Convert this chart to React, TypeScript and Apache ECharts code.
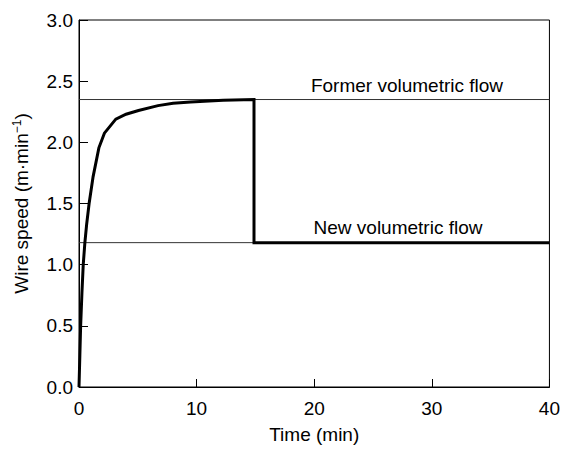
import React, { useEffect, useRef } from "react";
import * as echarts from "echarts";

const curveTime = [0, 0.07, 0.14, 0.25, 0.36, 0.5, 0.65, 0.86, 1.2, 1.69, 2.16, 3.13, 4.0, 5.06, 6.72, 8.0, 9.49, 12.26, 14.88, 14.88, 40];
const curveSpeed = [0, 0.25, 0.5, 0.77, 1.0, 1.18, 1.33, 1.5, 1.72, 1.955, 2.075, 2.19, 2.23, 2.26, 2.3, 2.32, 2.33, 2.343, 2.35, 1.18, 1.18];
const formerFlow = 2.35;
const newFlow = 1.18;
const refX = [0, 40];
const xTicks = [0, 10, 20, 30, 40];
const yTicks = [0, 0.5, 1.0, 1.5, 2.0, 2.5, 3.0];
const annotations = ["Former volumetric flow", "New volumetric flow"];

const FONT = "Liberation Sans, Arial, Helvetica, sans-serif";
const FS = 19;

export default function App() {
  const ref = useRef<HTMLDivElement>(null);
  useEffect(() => {
    if (!ref.current) return;
    const chart = echarts.init(ref.current, null, { renderer: "svg" });
    const curve = curveTime.map((t, i) => [t, curveSpeed[i]]);
    chart.setOption({
      animation: false,
      backgroundColor: "#fff",
      grid: { left: 79, top: 20, right: 2, bottom: 56, show: true, borderColor: "#000", borderWidth: 1 },
      xAxis: {
        type: "value",
        min: xTicks[0],
        max: xTicks[xTicks.length - 1],
        interval: 10,
        name: "Time (min)",
        nameLocation: "middle",
        nameGap: 38,
        nameTextStyle: { fontFamily: FONT, fontSize: FS, color: "#000" },
        axisLine: { show: true, lineStyle: { color: "#000", width: 1 } },
        axisTick: { show: true, inside: true, length: 8, lineStyle: { color: "#000" } },
        axisLabel: { fontFamily: FONT, fontSize: FS, color: "#000", margin: 12 },
        splitLine: { show: false },
      },
      yAxis: {
        type: "value",
        min: yTicks[0],
        max: yTicks[yTicks.length - 1],
        interval: 0.5,
        name: "{a|Wire speed (m·min}{b|−1}{a|)}",
        nameLocation: "middle",
        nameGap: 47,
        nameTextStyle: {
          fontFamily: FONT,
          fontSize: FS,
          color: "#000",
          rich: {
            a: { fontFamily: FONT, fontSize: FS, color: "#000" },
            b: { fontFamily: FONT, fontSize: 12, color: "#000", padding: [0, 0, 9, 0] },
          },
        },
        axisLine: { show: true, lineStyle: { color: "#000", width: 1 } },
        axisTick: { show: true, inside: true, length: 9, lineStyle: { color: "#000" } },
        axisLabel: {
          fontFamily: FONT,
          fontSize: FS,
          color: "#000",
          margin: 6,
          formatter: (v: number) => v.toFixed(1),
        },
        splitLine: { show: false },
      },
      series: [
        {
          type: "line",
          data: refX.map((x) => [x, formerFlow]),
          symbol: "none",
          lineStyle: { color: "#333", width: 1 },
          silent: true,
        },
        {
          type: "line",
          data: refX.map((x) => [x, newFlow]),
          symbol: "none",
          lineStyle: { color: "#333", width: 1 },
          silent: true,
        },
        {
          type: "line",
          data: curve,
          symbol: "none",
          smooth: false,
          lineStyle: { color: "#000", width: 3, join: "miter" },
        },
      ],
      graphic: [
        {
          type: "text",
          x: 407,
          y: 85,
          style: {
            text: annotations[0],
            fontFamily: FONT,
            fontSize: FS,
            fill: "#000",
            align: "center",
            verticalAlign: "middle",
          },
        },
        {
          type: "text",
          x: 398,
          y: 227,
          style: {
            text: annotations[1],
            fontFamily: FONT,
            fontSize: FS,
            fill: "#000",
            align: "center",
            verticalAlign: "middle",
          },
        },
      ],
    });
    return () => chart.dispose();
  }, []);
  return <div ref={ref} style={{ width: 563, height: 449, position: "absolute", left: 0, top: 0 }} />;
}
